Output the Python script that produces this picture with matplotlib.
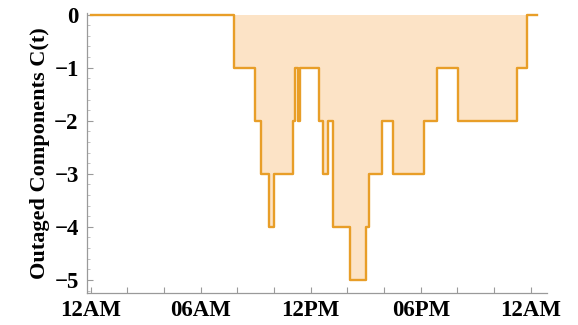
import matplotlib
matplotlib.use("Agg")
import matplotlib.pyplot as plt
import numpy as np

# step change times (hours after midnight) and value held from each time on
change_hours = [0, 7.79, 8.98, 9.30, 9.70, 9.97, 11.03, 11.16, 11.28, 11.43,
                12.43, 12.66, 12.94, 13.24, 14.15, 15.0, 15.15, 15.88, 16.51,
                18.19, 18.91, 20.05, 23.24, 23.78, 24.33]
outaged = [0, -1, -2, -3, -4, -3, -2, -1, -2, -1,
           -2, -3, -2, -4, -5, -4, -3, -2, -3,
           -2, -1, -2, -1, 0, 0]

xtick_hours = [0, 6, 12, 18, 24]
xtick_labels = ["12AM", "06AM", "12PM", "06PM", "12AM"]
yticks = [0, -1, -2, -3, -4, -5]

plt.rcParams['font.family'] = ['Liberation Serif', 'DejaVu Serif']
plt.rcParams['font.weight'] = 'bold'

fig = plt.figure(figsize=(5.78, 3.25), dpi=100)
ax = fig.add_axes([0.1505, 0.0994, 0.7955, 0.8606])

line_c = '#E89E28'
fill_c = '#FCE3C6'

ax.fill_between(change_hours, outaged, 0, step='post', color=fill_c, lw=0)
ax.step(change_hours, outaged, where='post', color=line_c, lw=1.7)

ax.set_xlim(-0.2, 24.87)
ax.set_ylim(-5.24, 0.03)

ax.set_xticks(np.arange(0, 25, 2), minor=False)
ax.set_xticklabels([xtick_labels[xtick_hours.index(h)] if h in xtick_hours else ''
                    for h in range(0, 25, 2)])
ax.set_yticks(yticks)
ax.set_yticklabels(['0'] + ['\u2212%d' % (-v) for v in yticks[1:]])
ax.set_yticks(np.arange(-5.2, 0.01, 0.2), minor=True)

for s in ['top', 'right']:
    ax.spines[s].set_visible(False)
for s in ['left', 'bottom']:
    ax.spines[s].set_color('#9a9a9a')
    ax.spines[s].set_linewidth(0.9)

ax.tick_params(axis='both', which='major', direction='in', length=4, width=0.8,
               color='#9a9a9a', labelsize=16.5, labelcolor='black')
ax.tick_params(axis='y', which='minor', direction='in', length=2, width=0.6,
               color='#b5b5b5')
ax.tick_params(axis='x', pad=5)
ax.tick_params(axis='y', pad=6)
for lbl in ax.get_xticklabels() + ax.get_yticklabels():
    lbl.set_fontweight('bold')

ax.set_ylabel('Outaged Components C(t)', fontsize=16, fontweight='bold', labelpad=3)

fig.savefig('out.png', dpi=100)
